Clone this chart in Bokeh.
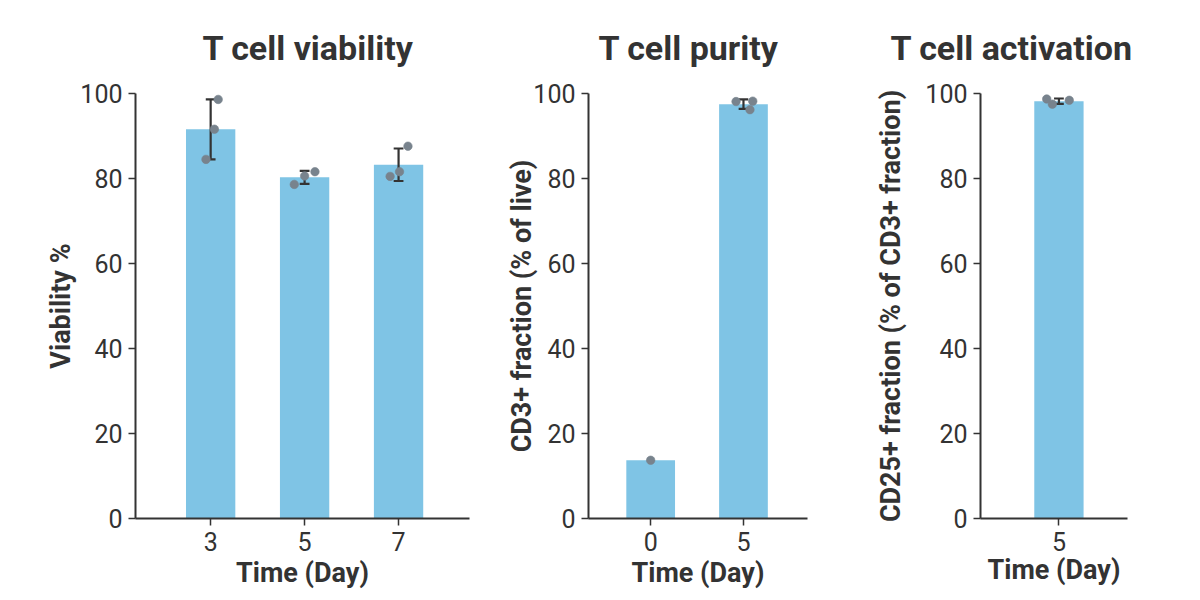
import numpy as np
from bokeh.plotting import figure
from bokeh.layouts import row
from bokeh.models import ColumnDataSource, Range1d, FixedTicker
from bokeh.embed import file_html
from bokeh.resources import INLINE

# ---------------- data ----------------
viab_days = ["3", "5", "7"]
viab_rep = [[98.6, 91.6, 84.5], [81.6, 80.6, 78.6], [87.6, 81.6, 80.5]]

purity_days = ["0", "5"]
purity_rep = [[13.7], [98.1, 98.2, 96.2]]

activ_days = ["5"]
activ_rep = [[98.7, 97.5, 98.4]]

y_ticks = [0, 20, 40, 60, 80, 100]

# ---------------- style ----------------
FONT = "Roboto"
TXT = "#333333"
BAR = "#7fc4e5"
DOT = "#78838d"
viab_jit = [[0.08, 0.04, -0.05], [0.11, 0.0, -0.11], [0.10, 0.01, -0.09]]
purity_jit = [[0.0], [-0.08, 0.10, 0.07]]
activ_jit = [[-0.13, -0.07, 0.11]]


def panel(days, reps, jits, title, ylabel, frame_w, border_l, border_r,
          xr, title_off, label_standoff, xlabel_standoff=3):
    p = figure(output_backend="svg", toolbar_location=None,
               frame_width=frame_w, frame_height=425,
               min_border_left=border_l, min_border_right=border_r,
               min_border_top=93, min_border_bottom=40,
               x_range=Range1d(*xr), y_range=Range1d(0, 100))
    p.outline_line_color = None
    p.xgrid.visible = False
    p.ygrid.visible = False
    p.background_fill_color = "white"
    p.border_fill_color = "white"

    idx = list(range(len(days)))
    means = [float(np.mean(r)) for r in reps]
    sds = [float(np.std(r, ddof=1)) if len(r) > 1 else 0.0 for r in reps]

    src = ColumnDataSource(dict(x=idx, top=means))
    p.vbar(x="x", top="top", bottom=0, width=0.525, source=src,
           fill_color=BAR, line_color=None)

    ex = [i for i, s in zip(idx, sds) if s > 0]
    elo = [m - s for m, s in zip(means, sds) if s > 0]
    ehi = [m + s for m, s in zip(means, sds) if s > 0]
    esrc = ColumnDataSource(dict(x=ex, lo=elo, hi=ehi,
                                 cl=[i - 0.052 for i in ex],
                                 cr=[i + 0.052 for i in ex]))
    p.segment(x0="x", y0="lo", x1="x", y1="hi", source=esrc,
              line_color=TXT, line_width=2.2)
    p.segment(x0="cl", y0="lo", x1="cr", y1="lo", source=esrc,
              line_color=TXT, line_width=2.2)
    p.segment(x0="cl", y0="hi", x1="cr", y1="hi", source=esrc,
              line_color=TXT, line_width=2.2)

    px, py = [], []
    for i, (r, j) in enumerate(zip(reps, jits)):
        for v, o in zip(r, j):
            px.append(i + o)
            py.append(v)
    p.scatter(px, py, size=8.5, fill_color=DOT, line_color=DOT, line_alpha=0.6)

    for ax in (p.xaxis, p.yaxis):
        ax.axis_line_color = TXT
        ax.axis_line_width = 2
        ax.major_tick_line_color = TXT
        ax.major_tick_line_width = 1.5
        ax.major_tick_out = 7
        ax.major_tick_in = 0
        ax.minor_tick_line_color = None
        ax.major_label_text_font = FONT
        ax.major_label_text_font_size = "25px"
        ax.major_label_text_color = TXT
        ax.axis_label_text_font = FONT
        ax.axis_label_text_font_size = "27px"
        ax.axis_label_text_font_style = "bold"
        ax.axis_label_text_color = TXT

    p.xaxis.ticker = FixedTicker(ticks=idx)
    p.xaxis.major_label_overrides = {i: d for i, d in zip(idx, days)}
    p.xaxis.axis_label = "Time (Day)"
    p.xaxis.major_label_standoff = 6
    p.xaxis.axis_label_standoff = xlabel_standoff
    p.yaxis.ticker = FixedTicker(ticks=y_ticks)
    p.yaxis.axis_label = ylabel
    p.yaxis.major_label_standoff = 6
    p.yaxis.axis_label_standoff = label_standoff

    p.title.text = title
    p.title.align = "left"
    p.title.offset = title_off
    p.title.standoff = 51
    p.title.text_font = FONT
    p.title.text_font_size = "34px"
    p.title.text_font_style = "bold"
    p.title.text_color = TXT
    return p


p1 = panel(viab_days, viab_rep, viab_jit, "T cell viability", "Viability %",
           334, 135, 11, (-0.80, 2.755), 67, 0)
p2 = panel(purity_days, purity_rep, purity_jit, "T cell purity",
           "CD3+ fraction (% of live)", 219, 108, 63, (-0.67, 1.69), 10, -8)
p3 = panel(activ_days, activ_rep, activ_jit, "T cell activation",
           "CD25+ fraction (% of CD3+ fraction)", 147, 110, 60,
           (-0.835, 0.73), -90, 15, 0)

layout = row(p1, p2, p3, spacing=0)
open("out.html", "w").write(file_html(layout, INLINE))
